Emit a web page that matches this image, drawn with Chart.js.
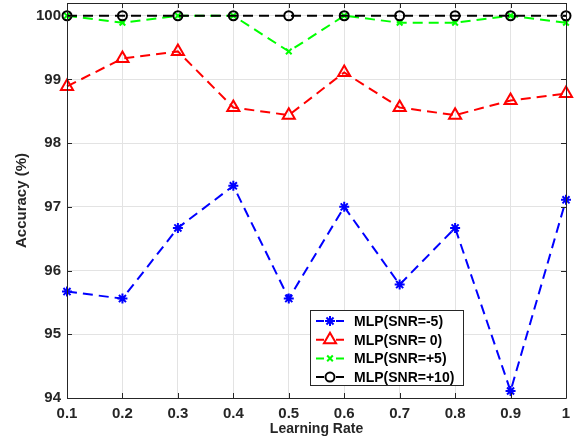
<!DOCTYPE html>
<html>
<head>
<meta charset="utf-8">
<script src="https://cdn.jsdelivr.net/npm/chart.js"></script>
<style>
    body { margin: 0; background: #fff; }
    #wrap { width: 579px; height: 441px; }
</style>
</head>
<body>
<div id="wrap"><canvas id="accChart" width="579" height="441"></canvas></div>
<script>
// data
const learningRates = ['0.1', '0.2', '0.3', '0.4', '0.5', '0.6', '0.7', '0.8', '0.9', '1'];
const accSnrM5 = [95.67, 95.56, 96.67, 97.33, 95.56, 97.0, 95.78, 96.67, 94.11, 97.11];
const accSnr0 = [98.89, 99.33, 99.44, 98.56, 98.44, 99.11, 98.56, 98.44, 98.67, 98.78];
const accSnr5 = [100, 99.89, 100, 100, 99.44, 100, 99.89, 99.89, 100, 99.89];
const accSnr10 = [100, 100, 100, 100, 100, 100, 100, 100, 100, 100];
const yTickValues = [94, 95, 96, 97, 98, 99, 100];
const seriesNames = ['MLP(SNR=-5)', 'MLP(SNR= 0)', 'MLP(SNR=+5)', 'MLP(SNR=+10)'];

const FONT = '"Liberation Sans", Arial, Helvetica, sans-serif';
const AXIS_COLOR = '#262626';
const DASH = [10, 6];

function makeSeries(label, data, color, style, radius, order) {
    return {
        label: label,
        data: data,
        borderColor: color,
        backgroundColor: 'rgba(0,0,0,0)',
        borderWidth: 2,
        borderDash: DASH,
        pointStyle: style,
        pointRadius: radius,
        pointBorderColor: color,
        pointBackgroundColor: 'rgba(0,0,0,0)',
        pointBorderWidth: 2,
        pointHoverRadius: radius,
        tension: 0,
        order: order
    };
}

const datasets = [
    makeSeries(seriesNames[0], accSnrM5, '#0000ff', 'star', 5, 3),
    makeSeries(seriesNames[1], accSnr0, '#ff0000', 'triangle', 7, 2),
    makeSeries(seriesNames[2], accSnr5, '#00ff00', 'crossRot', 4, 1),
    makeSeries(seriesNames[3], accSnr10, '#000000', 'circle', 4.5, 0)
];

// box, inward tick marks and the legend inside the axes
const matlabBox = {
    id: 'matlabBox',
    afterDatasetsDraw(chart) {
        const ctx = chart.ctx;
        const a = chart.chartArea;
        const xs = chart.scales.x;
        const ys = chart.scales.y;
        ctx.save();
        ctx.strokeStyle = AXIS_COLOR;
        ctx.lineWidth = 1;
        ctx.setLineDash([]);
        ctx.beginPath();
        ctx.rect(Math.round(a.left) + 0.5, Math.round(a.top) + 0.5,
            Math.round(a.right - a.left), Math.round(a.bottom - a.top));
        ctx.stroke();
        const len = 5;
        ctx.beginPath();
        xs.ticks.forEach((t, i) => {
            const px = Math.round(xs.getPixelForTick(i)) + 0.5;
            ctx.moveTo(px, a.bottom); ctx.lineTo(px, a.bottom - len);
            ctx.moveTo(px, a.top); ctx.lineTo(px, a.top + len);
        });
        yTickValues.forEach(v => {
            const py = Math.round(ys.getPixelForValue(v)) + 0.5;
            ctx.moveTo(a.left, py); ctx.lineTo(a.left + len, py);
            ctx.moveTo(a.right, py); ctx.lineTo(a.right - len, py);
        });
        ctx.stroke();

        // legend
        const box = { x: 310.5, y: 310.5, w: 153, h: 75 };
        ctx.fillStyle = '#fff';
        ctx.fillRect(box.x, box.y, box.w, box.h);
        ctx.strokeStyle = AXIS_COLOR;
        ctx.strokeRect(box.x, box.y, box.w, box.h);
        ctx.font = 'bold 14px ' + FONT;
        ctx.textBaseline = 'middle';
        ctx.textAlign = 'left';
        chart.data.datasets.forEach((ds, i) => {
            const ry = 321 + i * 18.7;
            ctx.strokeStyle = ds.borderColor;
            ctx.lineWidth = 2;
            ctx.setLineDash([]);
            ctx.beginPath();
            ctx.moveTo(316, ry); ctx.lineTo(324, ry);
            ctx.moveTo(336, ry); ctx.lineTo(344, ry);
            ctx.stroke();
            if (Chart.helpers && Chart.helpers.drawPoint) {
                ctx.fillStyle = 'rgba(0,0,0,0)';
                Chart.helpers.drawPoint(ctx, {
                    pointStyle: ds.pointStyle,
                    radius: ds.pointRadius,
                    borderWidth: 2,
                    rotation: 0
                }, 330, ry);
            }
            ctx.fillStyle = '#000';
            ctx.fillText(ds.label, 354, ry + 1);
        });
        ctx.restore();
    }
};

const ctx = document.getElementById('accChart').getContext('2d');
new Chart(ctx, {
    type: 'line',
    data: { labels: learningRates, datasets: datasets },
    options: {
        responsive: false,
        animation: false,
        devicePixelRatio: 1,
        layout: { autoPadding: false, padding: { top: 3, right: 13, bottom: 0, left: 0 } },
        plugins: {
            legend: { display: false },
            tooltip: { enabled: false }
        },
        scales: {
            x: {
                type: 'category',
                offset: false,
                grid: { color: '#e3e3e3', lineWidth: 1, drawTicks: false },
                border: { display: false },
                ticks: {
                    color: AXIS_COLOR,
                    padding: 7,
                    maxRotation: 0,
                    autoSkip: false,
                    font: { family: FONT, size: 15, weight: 'bold' }
                },
                title: {
                    display: true,
                    text: 'Learning Rate',
                    color: AXIS_COLOR,
                    padding: { top: 0, bottom: 3 },
                    font: { family: FONT, size: 14, weight: 'bold' }
                },
                afterFit(scale) {
                    scale.height = 43;
                    scale.paddingLeft = 0;
                    scale.paddingRight = 0;
                }
            },
            y: {
                type: 'linear',
                min: 94,
                max: 100.2,
                grid: { color: '#e3e3e3', lineWidth: 1, drawTicks: false },
                border: { display: false },
                afterBuildTicks(scale) {
                    scale.ticks = yTickValues.map(v => ({ value: v }));
                },
                ticks: {
                    color: AXIS_COLOR,
                    padding: 6,
                    font: { family: FONT, size: 15, weight: 'bold' },
                    callback: v => String(v)
                },
                title: {
                    display: true,
                    text: 'Accuracy (%)',
                    color: AXIS_COLOR,
                    padding: { top: 13, bottom: 0 },
                    font: { family: FONT, size: 15, weight: 'bold' }
                },
                afterFit(scale) {
                    scale.width = 67;
                    scale.paddingTop = 0;
                    scale.paddingBottom = 0;
                }
            }
        }
    },
    plugins: [matlabBox]
});
</script>
</body>
</html>
